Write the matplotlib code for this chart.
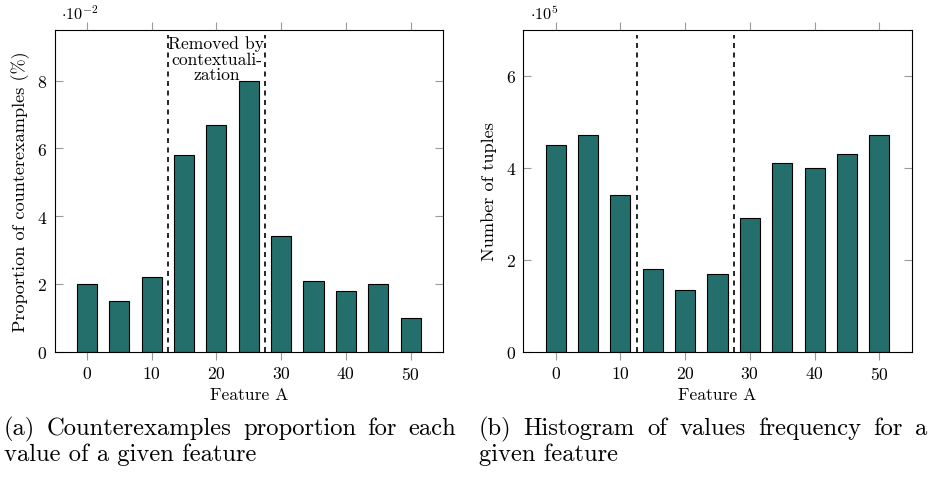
import matplotlib as mpl
import matplotlib.pyplot as plt
import numpy as np

mpl.use('agg')

plt.rcParams['font.family'] = ['cmr10', 'DejaVu Serif']
plt.rcParams['mathtext.fontset'] = 'cm'
plt.rcParams['axes.formatter.use_mathtext'] = True

# data
feature_a = [0, 5, 10, 15, 20, 25, 30, 35, 40, 45, 50]
counter_prop = [2.0, 1.5, 2.2, 5.8, 6.7, 8.0, 3.4, 2.1, 1.8, 2.0, 1.0]  # x 10^-2
n_tuples = [4.5, 4.7, 3.4, 1.8, 1.35, 1.7, 2.9, 4.1, 4.0, 4.3, 4.7]  # x 10^5
removed_bounds = [12.5, 27.5]

W, H = 930, 481
bar_color = '#246f6c'
tick_grey = '#9a9a9a'

fig = plt.figure(figsize=(W / 100, H / 100), dpi=100)
renderer = fig.canvas.get_renderer()


def fit_size(s, target_px):
    # font size giving the text a width of target_px (as measured on the reference)
    t = fig.text(0, 0, s, fontsize=10)
    w = t.get_window_extent(renderer).width
    t.remove()
    return 10 * target_px / w


fs = fit_size('Feature A', 78)
fs_ylab = fit_size('Proportion of counterexamples (%)', 281)
fs_off = fit_size(r'$\cdot 10^{5}$', 29)
cap_size = fit_size('value of a given feature', 252.5)

ax1 = fig.add_axes([54.5 / W, 1 - 352.7 / H, 388.5 / W, 322 / H])
ax2 = fig.add_axes([523.3 / W, 1 - 352.7 / H, 388.4 / W, 322 / H])


def style_axes(ax, vals, ylim, yticks, ylabel, offset, lab_x):
    ax.bar(feature_a, vals, width=3.1, color=bar_color,
           edgecolor='black', linewidth=0.8, zorder=2)
    for b in removed_bounds:
        ax.axvline(b, ymin=0, ymax=0.982, color='black', lw=1.2,
                   linestyle=(0, (3, 2.7)), zorder=3)
    ax.set_xlim(-5, 55)
    ax.set_ylim(*ylim)
    ax.set_xticks(range(0, 51, 10))
    ax.set_yticks(yticks)
    ax.tick_params(axis='x', direction='out', top=True, length=6,
                   width=0.8, color=tick_grey, pad=3.8, labelsize=fs)
    ax.tick_params(axis='y', direction='in', right=True, length=6,
                   width=0.8, color=tick_grey, pad=5.2, labelsize=fs)
    for s in ax.spines.values():
        s.set_linewidth(0.8)
    ax.set_xlabel('Feature A', fontsize=fs)
    ax.xaxis.set_label_coords(0.5, -0.108)
    ax.set_ylabel(ylabel, fontsize=fs_ylab)
    ax.yaxis.set_label_coords(lab_x, 0.5)
    ax.text(0.017, 1.033, offset, transform=ax.transAxes, fontsize=fs_off,
            ha='left', va='baseline')


style_axes(ax1, counter_prop, (0, 9.5), [0, 2, 4, 6, 8],
           'Proportion of counterexamples (%)', r'$\cdot 10^{-2}$', -0.063)
style_axes(ax2, n_tuples, (0, 7), [0, 2, 4, 6],
           'Number of tuples', r'$\cdot 10^{5}$', -0.068)

ax1.text(20, 9.35, 'Removed by\ncontextuali-\nzation', ha='center', va='top',
         fontsize=fs, linespacing=1.05, zorder=4)


# captions, first line justified like LaTeX
def justified(x0, x1, y, line, size):
    words = line.split()
    objs = [fig.text(0, 1 - y / H, w, fontsize=size, va='baseline') for w in words]
    widths = [o.get_window_extent(renderer).width for o in objs]
    gap = (x1 - x0 - sum(widths)) / (len(words) - 1)
    x = x0
    for o, w in zip(objs, widths):
        o.set_x(x / W)
        x += w + gap


justified(4, 456, 435, '(a) Counterexamples proportion for each', cap_size)
fig.text(4 / W, 1 - 461.5 / H, 'value of a given feature', fontsize=cap_size, va='baseline')
justified(478.3, 927.5, 435, '(b) Histogram of values frequency for a', cap_size)
fig.text(479 / W, 1 - 461.5 / H, 'given feature', fontsize=cap_size, va='baseline')

plt.savefig('out.png', dpi=100)
plt.close(fig)
